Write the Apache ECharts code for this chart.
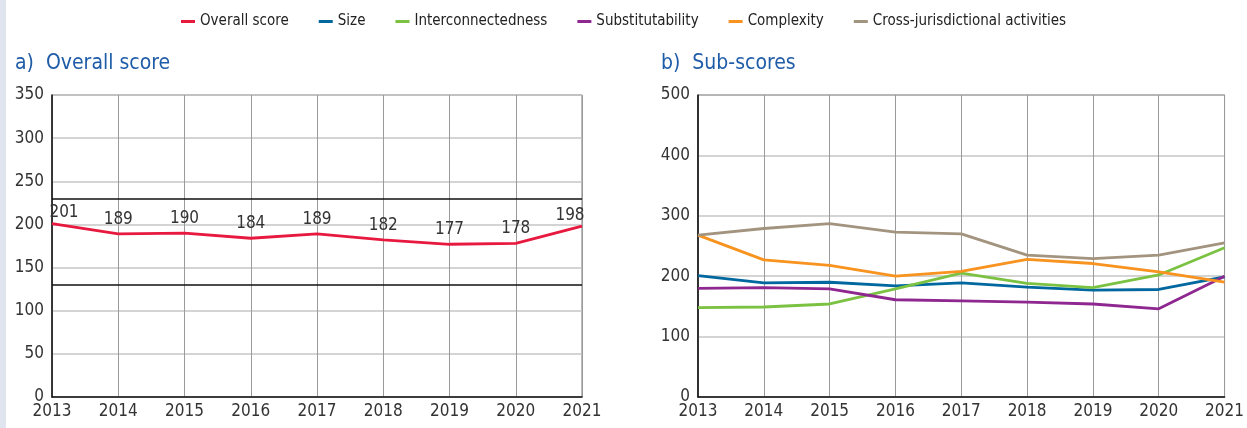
<!DOCTYPE html>
<html lang="en">
<head>
  <meta charset="UTF-8">
  <title>Scores</title>
  <style>
    body {
      margin: 0;
      padding: 0;
      background: #fff;
    }
    #main {
      width: 1247px;
      height: 428px;
    }
  </style>
</head>
<body>
  <div id="main"></div>
</body>
</html>
<script src="https://cdn.jsdelivr.net/npm/echarts@6/dist/echarts.min.js"></script>
<script>

var years = ['2013', '2014', '2015', '2016', '2017', '2018', '2019', '2020', '2021']

var overallScore = [201, 189, 190, 184, 189, 182, 177, 178, 198]
var bandLines = [230, 130]

var size = [201, 189, 190, 184, 189, 182, 177, 178, 199]
var interconnectedness = [148, 149, 154, 179, 205, 188, 181, 202, 247]
var substitutability = [180, 181, 179, 161, 159, 157, 154, 146, 200]
var complexity = [268, 227, 218, 200, 208, 228, 221, 207, 190]
var crossJurisdictional = [268, 279, 287, 273, 270, 235, 229, 235, 255]

var FONT = '"DejaVu Sans Condensed", "Liberation Sans Narrow", sans-serif'

;(function() {
  var chart = echarts.init(document.getElementById('main'))

  function xAxis(idx) {
    return {
      type: 'category',
      gridIndex: idx,
      data: years,
      boundaryGap: false,
      axisTick: { show: false },
      axisLine: { lineStyle: { color: '#111', width: 1.5 } },
      axisLabel: { color: '#333', fontFamily: FONT, fontSize: 17, margin: 6 },
      splitLine: { show: true, lineStyle: { color: '#9a9a9a', width: 1 } }
    }
  }

  function yAxis(idx, max, interval) {
    return {
      type: 'value',
      gridIndex: idx,
      min: 0,
      max: max,
      interval: interval,
      axisTick: { show: false },
      axisLine: { show: true, lineStyle: { color: '#111', width: 1.5 } },
      axisLabel: { color: '#333', fontFamily: FONT, fontSize: 17, margin: 8 },
      splitLine: { show: true, lineStyle: { color: '#c6c6c6', width: 1.5 } }
    }
  }

  // end labels are pushed inwards so they stay inside the box
  var overallData = overallScore.map(function(v, i) {
    var item = { value: v }
    if (i === 0) item.label = { offset: [12, 4] }
    if (i === overallScore.length - 1) item.label = { offset: [-12, 4] }
    return item
  })

  function subLine(name, data, color) {
    return {
      name: name,
      type: 'line',
      xAxisIndex: 1,
      yAxisIndex: 1,
      data: data,
      symbol: 'none',
      lineStyle: { width: 2.8, color: color },
      itemStyle: { color: color }
    }
  }

  var option = {
    animation: false,
    textStyle: { fontFamily: FONT },
    graphic: [
      { type: 'rect', left: 0, top: 0, shape: { width: 6, height: 428 }, style: { fill: '#dfe4ee' } }
    ],
    title: [
      {
        text: 'a)  Overall score', left: 10, top: 48,
        textStyle: { color: '#1f5ca8', fontFamily: FONT, fontSize: 21, fontWeight: 'normal' }
      },
      {
        text: 'b)  Sub-scores', left: 656, top: 48,
        textStyle: { color: '#1f5ca8', fontFamily: FONT, fontSize: 21, fontWeight: 'normal' }
      }
    ],
    legend: {
      top: 9,
      left: 'center',
      icon: 'rect',
      itemWidth: 14,
      itemHeight: 3,
      itemGap: 30,
      textStyle: { color: '#222', fontFamily: FONT, fontSize: 15 },
      data: ['Overall score', 'Size', 'Interconnectedness', 'Substitutability', 'Complexity', 'Cross-jurisdictional activities']
    },
    grid: [
      { left: 52, right: 665, top: 95, bottom: 31, show: true, borderColor: '#777', borderWidth: 1 },
      { left: 698, right: 19, top: 95, bottom: 31, show: true, borderColor: '#111', borderWidth: 1 }
    ],
    xAxis: [xAxis(0), xAxis(1)],
    yAxis: [yAxis(0, 350, 50), yAxis(1, 500, 100)],
    series: [
      {
        name: 'Overall score',
        type: 'line',
        xAxisIndex: 0,
        yAxisIndex: 0,
        data: overallData,
        symbol: 'circle',
        symbolSize: 0.1,
        showSymbol: true,
        lineStyle: { width: 2.8, color: '#e8193f' },
        itemStyle: { color: '#e8193f' },
        label: {
          show: true,
          position: 'top',
          distance: 6,
          color: '#333',
          fontFamily: FONT,
          fontSize: 17
        },
        markLine: {
          silent: true,
          symbol: 'none',
          label: { show: false },
          lineStyle: { color: '#111', type: 'solid', width: 1.5 },
          data: bandLines.map(function(v) { return { yAxis: v } })
        }
      },
      subLine('Size', size, '#00689f'),
      subLine('Interconnectedness', interconnectedness, '#7cc242'),
      subLine('Substitutability', substitutability, '#8e278f'),
      subLine('Complexity', complexity, '#f7931e'),
      subLine('Cross-jurisdictional activities', crossJurisdictional, '#a39480')
    ]
  }

  chart.setOption(option)
})()

</script>
